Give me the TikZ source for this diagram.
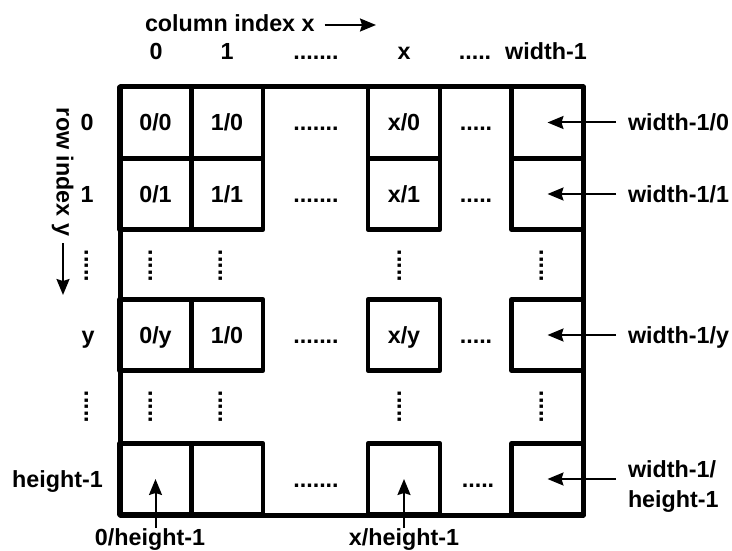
\documentclass[tikz,border=0pt]{standalone}
\usepackage{fontspec}
\setmainfont{Liberation Sans}
\usetikzlibrary{arrows.meta}
\begin{document}
\begin{tikzpicture}[x=1pt,y=-1pt,
  txt/.style={font=\fontsize{23.3}{30}\selectfont\bfseries, inner sep=0pt, outer sep=0pt},
  lbl/.style={txt, text height=17pt, text depth=0pt},
  cell/.style={lbl, draw, line width=4.5pt, line join=round, minimum width=72pt, minimum height=71pt},
  frame/.style={draw, line width=5pt, line join=round},
  arr/.style={line width=2pt, -{Stealth[length=16pt,width=13pt,inset=2pt]}},
  vd/.style={txt, rotate=-90, anchor=base}
]
\useasboundingbox (0,0) rectangle (732,551);
% frame
\draw[frame] (120,87) rectangle (583,515);
% cells
\node[cell] (c00) at (155.5,122.5) {0/0};
\node[cell] (c10) at (227,122.5) {1/0};
\node[cell] (cx0) at (404,122.5) {x/0};
\node[cell] (cw0) at (547.5,122.5) {};
\node[cell] (c01) at (155.5,194) {0/1};
\node[cell] (c11) at (227,194) {1/1};
\node[cell] (cx1) at (404,194) {x/1};
\node[cell] (cw1) at (547.5,194) {};
\node[cell] (c0y) at (155.5,335) {0/y};
\node[cell] (c1y) at (227,335) {1/0};
\node[cell] (cxy) at (404,335) {x/y};
\node[cell] (cwy) at (547.5,335) {};
\node[cell] (c0h) at (155.5,479) {};
\node[cell] (c1h) at (227,479) {};
\node[cell] (cxh) at (404,479) {};
\node[cell] (cwh) at (547.5,479) {};
% horizontal dots
\node[lbl] (d1a) at (316,122.5) {.......};
\node[lbl] (d1b) at (476,122.5) {.....};
\node[lbl] (d2a) at (316,194) {.......};
\node[lbl] (d2b) at (476,194) {.....};
\node[lbl] (d3a) at (316,335) {.......};
\node[lbl] (d3b) at (476,335) {.....};
\node[lbl] (d4a) at (316,479) {.......};
\node[lbl] (d4b) at (478,479) {.....};
% vertical dots
\node[vd] (v1r) at (84.5,266) {.....};
\node[vd] (v10) at (148.5,266) {.....};
\node[vd] (v11) at (218.5,266) {.....};
\node[vd] (v1x) at (397.5,266) {.....};
\node[vd] (v1w) at (539.5,266) {.....};
\node[vd] (v2r) at (84.5,407) {.....};
\node[vd] (v20) at (148.5,407) {.....};
\node[vd] (v21) at (218.5,407) {.....};
\node[vd] (v2x) at (397.5,407) {.....};
\node[vd] (v2w) at (539.5,407) {.....};
% column header
\node[lbl, anchor=west] (colidx) at (145,23.5) {column index x};
\coordinate (colend) at (376,25);
\draw[arr] ([xshift=10pt]colidx.east |- colend) -- (colend);
\node[lbl] (h0) at (156,51.5) {0};
\node[lbl] (h1) at (227,51.5) {1};
\node[lbl] (hd1) at (316,51.5) {.......};
\node[lbl] (hx) at (404,51.5) {x};
\node[lbl] (hd2) at (475,51.5) {.....};
\node[lbl] (hw) at (546,51.5) {width-1};
% row header
\node[txt, rotate=-90, anchor=base west] (rowidx) at (56.5,108) {row index y};
\coordinate (rowend) at (63,295);
\draw[arr] ([yshift=-7pt]rowidx.base east -| rowend) -- (rowend);
\node[lbl] (r0) at (87,122.5) {0};
\node[lbl] (r1) at (87,194) {1};
\node[lbl] (ry) at (88,335) {y};
\node[lbl] (rh) at (57.5,479) {height-1};
% right labels
\node[lbl, anchor=west] (lw0) at (628,122.5) {width-1/0};
\draw[arr] ([xshift=-12pt]lw0.west) -- (cw0.center);
\node[lbl, anchor=west] (lw1) at (628,194) {width-1/1};
\draw[arr] ([xshift=-12pt]lw1.west) -- (cw1.center);
\node[lbl, anchor=west] (lwy) at (628,335) {width-1/y};
\draw[arr] ([xshift=-12pt]lwy.west) -- (cwy.center);
\node[txt, anchor=west, align=left] (lwh) at (628,487) {width-1/\\height-1};
\draw[arr] ([xshift=-12pt]lwh.west |- cwh.center) -- (cwh.center);
% bottom labels
\node[lbl] (l0h) at (150,536.5) {0/height-1};
\draw[arr] (l0h.north -| c0h.center) -- (c0h.center);
\node[lbl] (lxh) at (404,536.5) {x/height-1};
\draw[arr] (lxh.north -| cxh.center) -- (cxh.center);
\end{tikzpicture}
\end{document}
